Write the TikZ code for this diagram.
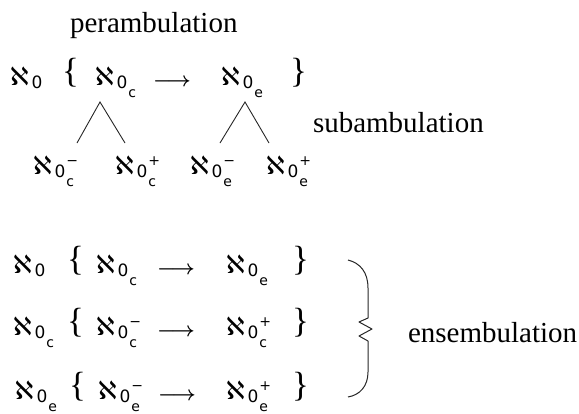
\documentclass[tikz,border=0pt]{standalone}
\usepackage{fontspec}
\setmainfont{Liberation Serif}
\newfontfamily\dv{DejaVu Sans}
\newcommand\fA{\dv\fontsize{25}{25}\selectfont}
\newcommand\fB{\dv\fontsize{17}{17}\selectfont}
\newcommand\fC{\dv\fontsize{14}{14}\selectfont}
\newcommand\alz[2]{\hbox{{\fA ℵ}\hspace{3pt}\raisebox{-3pt}{\fB 0}\hspace{1pt}\rlap{\raisebox{9pt}{\fC #2}}\raisebox{-12pt}{\fC #1}}}
\newcommand\arrw{\resizebox{38pt}{!}{\boldmath$\longrightarrow$}}
\tikzset{
  lbl/.style={anchor=base west, inner sep=0pt, outer sep=0pt},
  word/.style={lbl, font=\fontsize{29}{29}\selectfont},
  brc/.style={lbl, font=\fontsize{35}{35}\selectfont},
  tree/.style={line width=0.9pt, draw=black!85},
  bigbrace/.style={line width=1pt, draw=black!85, line join=round}
}
\begin{document}
\begin{tikzpicture}[x=1pt,y=-1pt]
\useasboundingbox (0,0) rectangle (579,413);
\node[word] (per) at (70,32) {perambulation};
% top row
\node[lbl] (t0) at (10,85) {\alz{}{}};
\node[brc] (tob) at (62,82) {\{};
\node[lbl] (tc) at (95,85) {\alz{c}{}};
\node[lbl] (ta) at (153,86) {\arrw};
\node[lbl] (te) at (221,85) {\alz{e}{}};
\node[brc] (tcb) at (290,82) {\}};
\node[word] (sub) at (313,132) {subambulation};
% tree
\coordinate (a1) at (100,102);
\coordinate (a1l) at (77,143);
\coordinate (a1r) at (125,143);
\coordinate (a2) at (245,102);
\coordinate (a2l) at (220,143);
\coordinate (a2r) at (269,143);
\draw[tree] (a1l) -- (a1) -- (a1r);
\draw[tree] (a2l) -- (a2) -- (a2r);
\node[lbl] (bcm) at (33,174) {\alz{c}{−}};
\node[lbl] (bcp) at (115,174) {\alz{c}{+}};
\node[lbl] (bem) at (190,174) {\alz{e}{−}};
\node[lbl] (bep) at (266,174) {\alz{e}{+}};
% lower block row 1
\node[lbl] (la0) at (13,273) {\alz{}{}};
\node[brc] (lab) at (67,270) {\{};
\node[lbl] (lac) at (96,273) {\alz{c}{}};
\node[lbl] (laa) at (157,274) {\arrw};
\node[lbl] (lae) at (226,273) {\alz{e}{}};
\node[brc] (lacb) at (292,270) {\}};
% row 2
\node[lbl] (lb0) at (13,335) {\alz{c}{}};
\node[brc] (lbb) at (67,332) {\{};
\node[lbl] (lbc) at (96,335) {\alz{c}{−}};
\node[lbl] (lba) at (157,336) {\arrw};
\node[lbl] (lbe) at (226,335) {\alz{c}{+}};
\node[brc] (lbcb) at (292,332) {\}};
% row 3
\node[lbl] (lc0) at (15,399) {\alz{e}{}};
\node[brc] (lcb) at (69,396) {\{};
\node[lbl] (lcc) at (98,399) {\alz{e}{−}};
\node[lbl] (lca) at (158,400) {\arrw};
\node[lbl] (lce) at (226,399) {\alz{e}{+}};
\node[brc] (lccb) at (292,396) {\}};
% big brace
\draw[bigbrace] (348,260) .. controls (360,263) and (368,272) .. (368,288)
  -- (368,318) -- (359,322) -- (372,329) -- (359,336) -- (368,341)
  -- (368,372) .. controls (368,386) and (360,395) .. (348,397);
\node[word] (ens) at (408,342) {ensembulation};
\end{tikzpicture}
\end{document}
